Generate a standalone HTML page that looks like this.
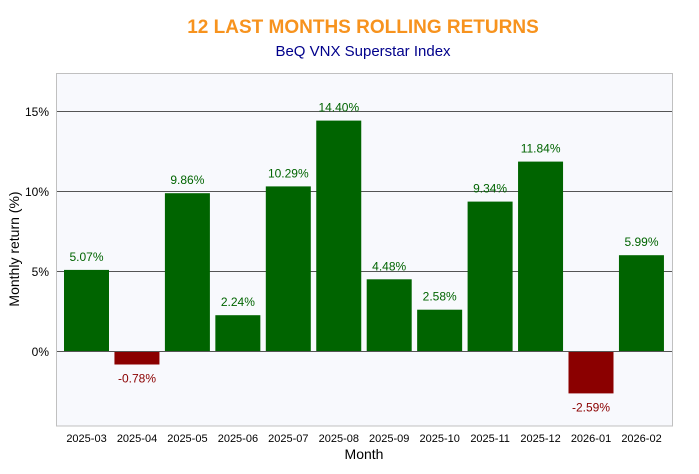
<!DOCTYPE html>
<html><head><style>body{margin:0;background:#fff}</style></head><body>
<svg width="699" height="469" xmlns="http://www.w3.org/2000/svg" font-family="Liberation Sans, Arial, sans-serif">
<text x="363" y="33" text-anchor="middle" font-size="19" font-weight="bold" fill="#f7931e">12 LAST MONTHS ROLLING RETURNS</text>
<text x="363" y="56" text-anchor="middle" font-size="15" fill="#00008b">BeQ VNX Superstar Index</text>
<rect x="56.5" y="73.5" width="616" height="352.5" fill="#f8f9fd" stroke="#c0c0c0" stroke-width="1"/>
<g stroke="#555" stroke-width="1">
<line x1="57" x2="672" y1="111.5" y2="111.5"/>
<line x1="57" x2="672" y1="191.5" y2="191.5"/>
<line x1="57" x2="672" y1="271.5" y2="271.5"/>
<line x1="57" x2="672" y1="351.5" y2="351.5"/>
</g>
<g font-size="12" fill="#000" text-anchor="end">
<text x="49" y="116">15%</text><text x="49" y="196">10%</text><text x="49" y="276">5%</text><text x="49" y="356">0%</text>
</g>
<text transform="translate(19,249) rotate(-90)" text-anchor="middle" font-size="14">Monthly return (%)</text>
<text x="364" y="459" text-anchor="middle" font-size="14">Month</text>
<g fill="#006400">
<rect x="64" y="269.9" width="45" height="81.1"/>
<rect x="164.9" y="193.2" width="45" height="157.8"/>
<rect x="215.35" y="315.2" width="45" height="35.8"/>
<rect x="265.8" y="186.4" width="45" height="164.6"/>
<rect x="316.25" y="120.6" width="45" height="230.4"/>
<rect x="366.7" y="279.3" width="45" height="71.7"/>
<rect x="417.15" y="309.7" width="45" height="41.3"/>
<rect x="467.6" y="201.6" width="45" height="149.4"/>
<rect x="518.05" y="161.6" width="45" height="189.4"/>
<rect x="618.95" y="255.2" width="45" height="95.8"/>
</g>
<g fill="#8b0000">
<rect x="114.45" y="352" width="45" height="12.5"/>
<rect x="568.5" y="352" width="45" height="41.4"/>
</g>
<g font-size="12" fill="#006400" text-anchor="middle">
<text x="86.5" y="260.9">5.07%</text>
<text x="187.4" y="184.2">9.86%</text>
<text x="237.9" y="306.2">2.24%</text>
<text x="288.3" y="177.4">10.29%</text>
<text x="338.8" y="111.6">14.40%</text>
<text x="389.2" y="270.3">4.48%</text>
<text x="439.7" y="300.7">2.58%</text>
<text x="490.1" y="192.6">9.34%</text>
<text x="540.6" y="152.6">11.84%</text>
<text x="641.5" y="246.2">5.99%</text>
</g>
<g font-size="12" fill="#8b0000" text-anchor="middle">
<text x="137" y="382.5">-0.78%</text>
<text x="591" y="411.4">-2.59%</text>
</g>
<g font-size="11" fill="#000" text-anchor="middle">
<text x="86.5" y="442">2025-03</text><text x="137" y="442">2025-04</text><text x="187.4" y="442">2025-05</text><text x="237.9" y="442">2025-06</text><text x="288.3" y="442">2025-07</text><text x="338.8" y="442">2025-08</text><text x="389.2" y="442">2025-09</text><text x="439.7" y="442">2025-10</text><text x="490.1" y="442">2025-11</text><text x="540.6" y="442">2025-12</text><text x="591" y="442">2026-01</text><text x="641.5" y="442">2026-02</text>
</g>
</svg>
</body></html>
